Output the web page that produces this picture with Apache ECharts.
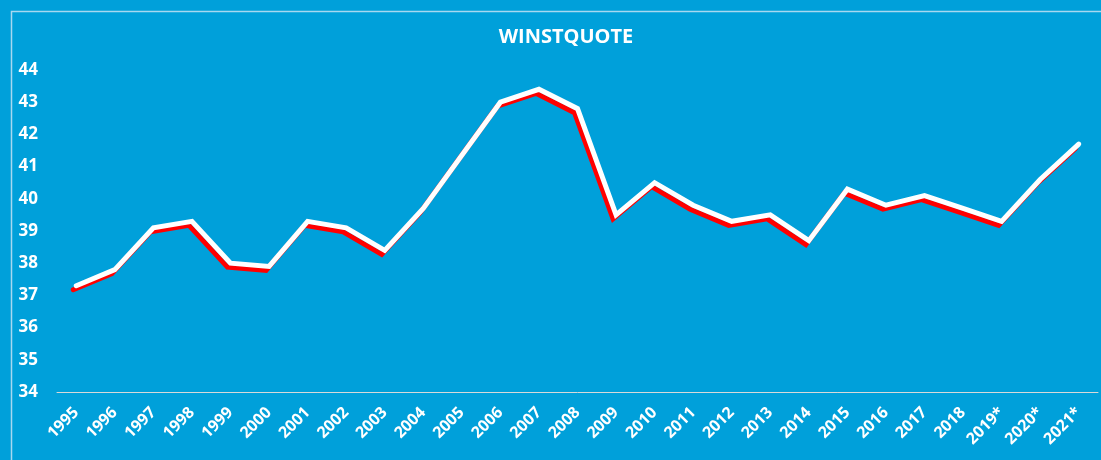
<!DOCTYPE html>
<html>
<head>
<meta charset="utf-8">
<script src="https://cdn.jsdelivr.net/npm/echarts@6/dist/echarts.min.js"></script>
<style>
  html, body { margin: 0; padding: 0; background: #00a0da; }
  #chart { width: 1101px; height: 460px; }
</style>
</head>
<body>
<div id="chart"></div>
<script>
const years = ["1995", "1996", "1997", "1998", "1999", "2000", "2001", "2002", "2003", "2004",
  "2005", "2006", "2007", "2008", "2009", "2010", "2011", "2012", "2013", "2014",
  "2015", "2016", "2017", "2018", "2019*", "2020*", "2021*"];
const quote = [37.3, 37.8, 39.1, 39.3, 38.0, 37.9, 39.3, 39.1, 38.4, 39.7,
  41.35, 43.0, 43.4, 42.8, 39.5, 40.5, 39.8, 39.3, 39.5, 38.7,
  40.3, 39.8, 40.1, 39.7, 39.3, 40.6, 41.7];
const yMin = 34;
const yMax = 44;

const myChart = echarts.init(document.getElementById("chart"));
const font = "'Open Sans', 'Noto Sans', sans-serif";

const option = {
  backgroundColor: "#00a0da",
  title: {
    text: "WINSTQUOTE",
    left: 561,
    textAlign: "center",
    top: 22,
    textStyle: { color: "#fff", fontSize: 20, fontWeight: "bold", fontFamily: font }
  },
  graphic: [
    {
      type: "rect",
      left: 9,
      top: 9,
      shape: { width: 1200, height: 600 },
      style: { fill: "none", stroke: "#a8d8f0", lineWidth: 1.5 },
      silent: true
    }
  ],
  grid: { left: 57, right: 3, top: 70, bottom: 68 },
  xAxis: {
    type: "category",
    data: years,
    boundaryGap: true,
    axisLine: { lineStyle: { color: "#d9d9d9", width: 1 } },
    axisTick: { show: false },
    axisLabel: {
      rotate: 45,
      interval: 0,
      margin: 18,
      color: "#fff",
      fontSize: 16,
      fontWeight: "bold",
      fontFamily: font
    }
  },
  yAxis: {
    type: "value",
    min: yMin,
    max: yMax,
    interval: 1,
    axisLine: { show: false },
    axisTick: { show: false },
    splitLine: { show: false },
    axisLabel: {
      margin: 19,
      color: "#fff",
      fontSize: 17,
      fontWeight: "bold",
      fontFamily: font
    }
  },
  series: [
    {
      name: "Winstquote",
      type: "line",
      data: quote,
      symbol: "none",
      z: 3,
      lineStyle: {
        color: "#fff",
        width: 5,
        cap: "round",
        join: "miter",
        shadowColor: "#ff0000",
        shadowBlur: 0,
        shadowOffsetX: -3,
        shadowOffsetY: 4
      }
    }
  ]
};
myChart.setOption(option);
</script>
</body>
</html>
